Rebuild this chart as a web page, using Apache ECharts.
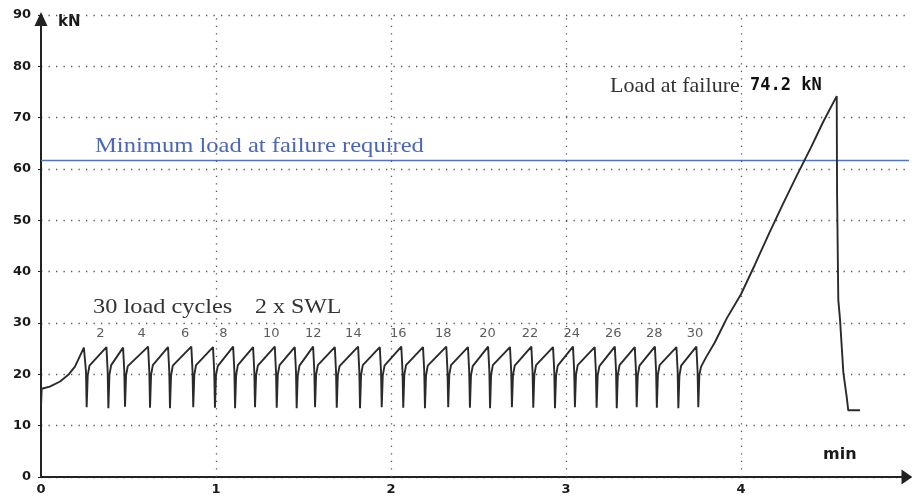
<!DOCTYPE html>
<html><head><meta charset="utf-8">
<script src="https://cdn.jsdelivr.net/npm/echarts@6.0.0/dist/echarts.min.js"></script>
<style>html,body{margin:0;padding:0;background:#fff}#c{width:912px;height:500px}</style>
</head><body><div id="c"></div>
<script>
// axis ticks
const xTicks = [0, 1, 2, 3, 4];
const yTicks = [0, 10, 20, 30, 40, 50, 60, 70, 80, 90];
const gridMinutes = [1, 2, 3, 4];

// load curve (minutes, kN)
const loadTime = [
  0, 0.004, 0.05, 0.109, 0.156, 0.194,
  0.245, 0.257, 0.261, 0.267, 0.277,
  0.374, 0.381, 0.385, 0.391, 0.401,
  0.469, 0.476, 0.480, 0.486, 0.496,
  0.612, 0.619, 0.623, 0.629, 0.639,
  0.726, 0.733, 0.737, 0.743, 0.753,
  0.859, 0.866, 0.870, 0.876, 0.886,
  0.983, 0.990, 0.994, 1.000, 1.010,
  1.098, 1.105, 1.109, 1.115, 1.125,
  1.212, 1.219, 1.223, 1.229, 1.239,
  1.336, 1.343, 1.347, 1.353, 1.363,
  1.450, 1.457, 1.461, 1.467, 1.477,
  1.555, 1.562, 1.566, 1.572, 1.582,
  1.679, 1.686, 1.690, 1.696, 1.706,
  1.812, 1.819, 1.823, 1.829, 1.839,
  1.936, 1.943, 1.947, 1.953, 1.963,
  2.059, 2.066, 2.070, 2.076, 2.086,
  2.183, 2.190, 2.194, 2.200, 2.210,
  2.316, 2.323, 2.327, 2.333, 2.343,
  2.440, 2.447, 2.451, 2.457, 2.467,
  2.555, 2.562, 2.566, 2.572, 2.582,
  2.680, 2.687, 2.691, 2.697, 2.707,
  2.802, 2.809, 2.813, 2.819, 2.829,
  2.926, 2.933, 2.937, 2.943, 2.953,
  3.040, 3.047, 3.051, 3.057, 3.067,
  3.164, 3.171, 3.175, 3.181, 3.191,
  3.279, 3.286, 3.290, 3.296, 3.306,
  3.393, 3.400, 3.404, 3.410, 3.420,
  3.508, 3.515, 3.519, 3.525, 3.535,
  3.631, 3.638, 3.642, 3.648, 3.658,
  3.745, 3.752, 3.756, 3.762, 3.772,
  3.80, 3.85, 3.92, 4.00, 4.08, 4.16, 4.24, 4.32, 4.40, 4.47, 4.547,
  4.549, 4.556, 4.566, 4.585, 4.604, 4.613, 4.68
];
const loadValue = [
  13.8, 17.2, 17.6, 18.6, 19.9, 21.5,
  25.2, 20.6, 13.6, 19.8, 21.7,
  25.3, 20.5, 13.4, 19.9, 21.8,
  25.2, 20.6, 13.7, 19.8, 21.6,
  25.4, 20.4, 13.5, 19.9, 21.8,
  25.3, 20.6, 13.4, 19.7, 21.7,
  25.4, 20.5, 13.6, 19.9, 21.8,
  25.3, 20.4, 13.5, 19.8, 21.6,
  25.4, 20.6, 13.4, 19.9, 21.8,
  25.3, 20.5, 13.6, 19.8, 21.7,
  25.4, 20.4, 13.5, 19.9, 21.8,
  25.3, 20.6, 13.4, 19.7, 21.7,
  25.4, 20.5, 13.6, 19.9, 21.8,
  25.3, 20.4, 13.5, 19.8, 21.6,
  25.4, 20.6, 13.4, 19.9, 21.8,
  25.3, 20.5, 13.6, 19.8, 21.7,
  25.4, 20.4, 13.5, 19.9, 21.8,
  25.3, 20.6, 13.4, 19.7, 21.7,
  25.4, 20.5, 13.6, 19.9, 21.8,
  25.3, 20.4, 13.5, 19.8, 21.6,
  25.4, 20.6, 13.4, 19.9, 21.8,
  25.3, 20.5, 13.6, 19.8, 21.7,
  25.4, 20.4, 13.5, 19.9, 21.8,
  25.3, 20.6, 13.4, 19.7, 21.7,
  25.4, 20.5, 13.6, 19.9, 21.8,
  25.3, 20.4, 13.5, 19.8, 21.6,
  25.4, 20.6, 13.4, 19.9, 21.8,
  25.3, 20.5, 13.6, 19.8, 21.7,
  25.4, 20.4, 13.5, 19.9, 21.8,
  25.3, 20.6, 13.4, 19.7, 21.7,
  25.4, 20.5, 13.6, 19.9, 21.5,
  23.3, 26.2, 31.0, 35.6, 41.4, 47.4, 53.2, 58.8, 64.2, 69.2, 74.2,
  55.0, 34.5, 30.6, 20.3, 15.6, 13.0, 13.0
];

// cycle number labels
const cycleLabelTime = [0.339, 0.575, 0.823, 1.042, 1.316, 1.556, 1.785, 2.042, 2.299, 2.551, 2.794, 3.033, 3.270, 3.504, 3.737];
const cycleLabelText = ['2', '4', '6', '8', '10', '12', '14', '16', '18', '20', '22', '24', '26', '28', '30'];
const cycleLabelLevel = 28.0;

const minimumRequired = 61.8;
const failureLoad = 74.2;

const chart = echarts.init(document.getElementById('c'), null, {renderer: 'canvas'});
const dotted = [1.3, 6.2];
const gridDot = {color: '#555', width: 1.3, type: dotted};
const axisFont = {fontFamily: 'DejaVu Sans', fontWeight: 'bold', fontSize: 13, color: '#1a1a1a'};

chart.setOption({
  animation: false,
  backgroundColor: '#ffffff',
  grid: {left: 41, right: 3, top: 15, bottom: 23, containLabel: false},
  xAxis: {
    type: 'value', min: 0, max: 4.96, interval: 1,
    axisLine: {show: true, lineStyle: {color: '#222', width: 2},
      symbol: ['none', 'triangle'], symbolSize: [15, 11], symbolOffset: [0, -2]},
    axisTick: {show: false},
    splitLine: {show: false},
    axisLabel: Object.assign({margin: 6, showMaxLabel: false,
      formatter: v => xTicks.indexOf(v) >= 0 ? String(v) : ''}, axisFont)
  },
  yAxis: {
    type: 'value', min: 0, max: 90, interval: 10,
    axisLine: {show: true, lineStyle: {color: '#222', width: 2},
      symbol: ['none', 'triangle'], symbolSize: [13, 14], symbolOffset: [0, -4]},
    axisTick: {show: true, length: 3, lineStyle: {color: '#222', width: 1}},
    splitLine: {show: true, lineStyle: gridDot},
    axisLabel: Object.assign({margin: 10,
      formatter: v => yTicks.indexOf(v) >= 0 ? String(v) : ''}, axisFont)
  },
  series: [
    {
      type: 'line',
      data: loadTime.map((t, i) => [t, loadValue[i]]),
      showSymbol: false, symbol: 'none',
      lineStyle: {color: '#2a2a2a', width: 1.9},
      z: 5,
      markLine: {
        silent: true, symbol: ['none', 'none'],
        label: {show: false},
        data: [{yAxis: minimumRequired, lineStyle: {color: '#5573c3', width: 1.3, type: 'solid'}}]
          .concat(gridMinutes.map(m => ({xAxis: m, lineStyle: gridDot})))
      }
    },
    {
      type: 'scatter',
      data: cycleLabelTime.map((t, i) => [t, cycleLabelLevel, cycleLabelText[i]]),
      symbolSize: 0,
      label: {show: true, position: 'inside', formatter: p => p.value[2],
        fontFamily: 'DejaVu Sans', fontSize: 13, color: '#333'},
      z: 6
    }
  ],
  graphic: [
    {type: 'text', x: 95, y: 146, scaleX: 1.17,
      style: {text: 'Minimum load at failure required', font: '21px "Liberation Serif"', fill: '#4a67b8', verticalAlign: 'middle'}},
    {type: 'text', x: 610, y: 86, scaleX: 1.05,
      style: {text: 'Load at failure', font: '21px "Liberation Serif"', fill: '#333', verticalAlign: 'middle'}},
    {type: 'text', x: 750, y: 86,
      style: {text: failureLoad + ' kN', font: 'bold 17px "DejaVu Sans Mono"', fill: '#111', verticalAlign: 'middle'}},
    {type: 'text', x: 93, y: 307, scaleX: 1.16,
      style: {text: '30 load cycles', font: '21px "Liberation Serif"', fill: '#333', verticalAlign: 'middle'}},
    {type: 'text', x: 255, y: 307, scaleX: 1.14,
      style: {text: '2 x SWL', font: '21px "Liberation Serif"', fill: '#333', verticalAlign: 'middle'}},
    {type: 'text', x: 58, y: 22,
      style: {text: 'kN', font: 'bold 15px "DejaVu Sans"', fill: '#1a1a1a', verticalAlign: 'middle'}},
    {type: 'text', x: 823, y: 455,
      style: {text: 'min', font: 'bold 16px "DejaVu Sans"', fill: '#1a1a1a', verticalAlign: 'middle'}}
  ]
});
</script>
</body></html>
